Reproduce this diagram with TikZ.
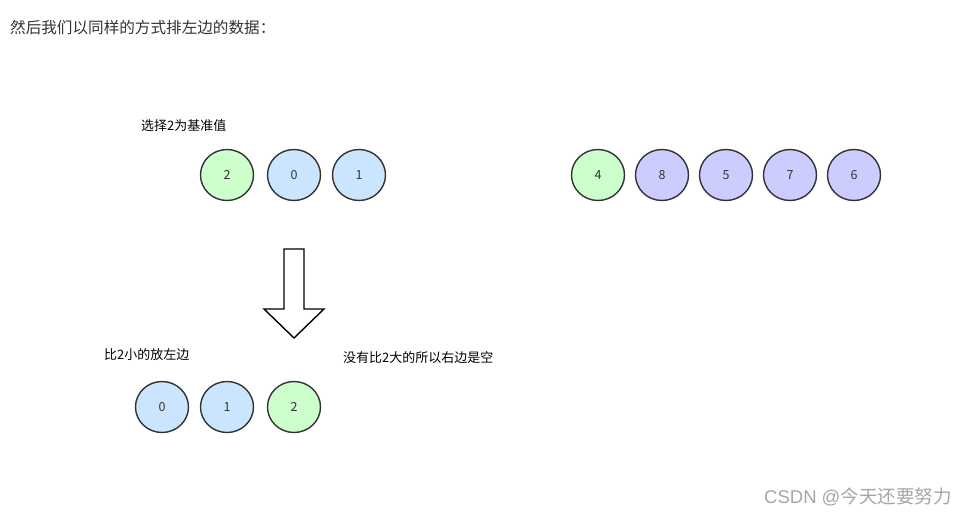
\documentclass[tikz,border=0pt]{standalone}
\usepackage{fontspec}
\setmainfont{Noto Sans CJK SC}
\newfontfamily\wmlatin{Liberation Sans}
\definecolor{gfill}{HTML}{CCFFCC}
\definecolor{bfill}{HTML}{CCE5FF}
\definecolor{pfill}{HTML}{CCCCFF}
\definecolor{stroke}{HTML}{333333}
\definecolor{txt}{HTML}{333333}
\usetikzlibrary{shapes.geometric}
\begin{document}
\begin{tikzpicture}[x=1pt,y=-1pt,
  ball/.style={ellipse,draw=stroke,line width=1.4pt,minimum width=53pt,minimum height=51pt,inner sep=0pt,font=\fontsize{12.5}{14}\selectfont,text=txt},
  gball/.style={ball,fill=gfill},
  bball/.style={ball,fill=bfill},
  pball/.style={ball,fill=pfill},
  lab/.style={anchor=west,inner sep=0pt,font=\fontsize{13}{15}\selectfont,text=black}]
\useasboundingbox (0,0) rectangle (967,516);
\fill[white] (0,0) rectangle (967,516);
\node[anchor=west,inner sep=0pt,font=\fontsize{15.6}{18}\selectfont,text=txt] (title) at (10,28) {然后我们以同样的方式排左边的数据：};
\node[lab] (l1) at (141,126) {选择2为基准值};
\node[gball] (a2) at (227,175) {2};
\node[bball] (a0) at (294,175) {0};
\node[bball] (a1) at (359,175) {1};
\node[gball] (b4) at (598,175) {4};
\node[pball] (b8) at (662,175) {8};
\node[pball] (b5) at (726,175) {5};
\node[pball] (b7) at (790,175) {7};
\node[pball] (b6) at (854,175) {6};
\draw[stroke,line width=1.4pt,fill=white,line join=miter]
  (284,249) -- (304,249) -- (304,309) -- (324,309) -- (294,338) -- (264,309) -- (284,309) -- cycle;
\node[lab] (l2) at (104,355) {比2小的放左边};
\node[lab] (l3) at (343,358) {没有比2大的所以右边是空};
\node[bball] (c0) at (162,407) {0};
\node[bball] (c1) at (227,407) {1};
\node[gball] (c2) at (294,407) {2};
\node[anchor=west,inner sep=0pt,font=\fontsize{18.5}{20}\selectfont,text=black!35] (wm) at (764,497) {{\wmlatin CSDN @}今天还要努力};
\end{tikzpicture}
\end{document}
